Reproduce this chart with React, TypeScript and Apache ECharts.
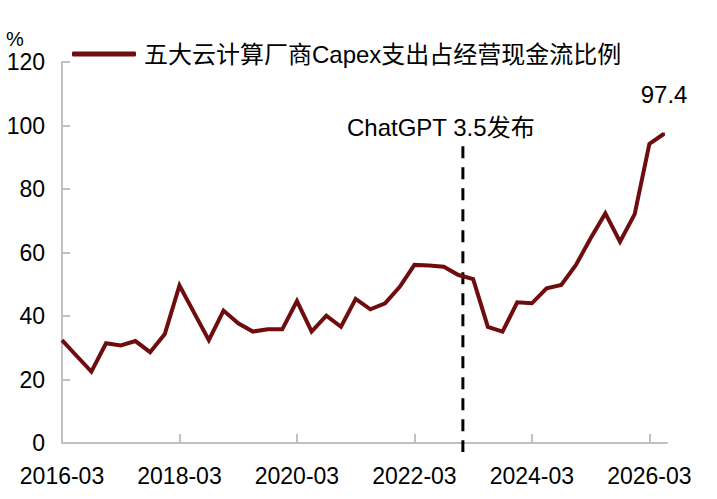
import React, { useEffect, useRef } from "react";
import * as echarts from "echarts";

const seriesName = "五大云计算厂商Capex支出占经营现金流比例";
const quarters: string[] = [
  "2016-03","2016-06","2016-09","2016-12","2017-03","2017-06","2017-09","2017-12",
  "2018-03","2018-06","2018-09","2018-12","2019-03","2019-06","2019-09","2019-12",
  "2020-03","2020-06","2020-09","2020-12","2021-03","2021-06","2021-09","2021-12",
  "2022-03","2022-06","2022-09","2022-12","2023-03","2023-06","2023-09","2023-12",
  "2024-03","2024-06","2024-09","2024-12","2025-03","2025-06","2025-09","2025-12",
  "2026-03","2026-06",
];
const values: number[] = [
  32.4, 27.4, 22.5, 31.4, 30.7, 32.1, 28.6, 34.3,
  49.6, 41.0, 32.4, 41.7, 37.7, 35.1, 35.8, 35.8,
  44.7, 35.1, 40.1, 36.6, 45.4, 42.1, 44.0, 49.2,
  56.1, 55.9, 55.5, 52.9, 51.6, 36.6, 35.1, 44.3,
  44.0, 48.7, 49.8, 56.1, 64.5, 72.3, 63.4, 72.1,
  94.2, 97.4,
];
const xTickIndices: number[] = [0, 8, 16, 24, 32, 40];
const yTicks: number[] = [0, 20, 40, 60, 80, 100, 120];
const chatgptIndex = 27.3;
const chatgptLineRange: number[] = [93.5, -2.8];
const chatgptLabel = "ChatGPT 3.5发布";
const unitLabel = "%";

const FONT = "'Liberation Sans', Arial, 'Noto Sans CJK SC', sans-serif";
const LINE_COLOR = "#6F0C0E";

export default function App() {
  const ref = useRef<HTMLDivElement>(null);
  useEffect(() => {
    document.body.style.margin = "0";
    if (!ref.current) return;
    const chart = echarts.init(ref.current, undefined, { renderer: "svg" });
    const lastIdx = values.length - 1;
    const lineData = values.map((v, i) =>
      i === lastIdx
        ? {
            value: [i, v],
            symbol: "circle",
            symbolSize: 2,
            itemStyle: { color: LINE_COLOR },
            label: {
              show: true,
              position: "top",
              distance: 26,
              fontSize: 24,
              color: "#000",
              fontFamily: FONT,
              formatter: () => v.toFixed(1),
            },
          }
        : { value: [i, v], symbol: "none" }
    );
    chart.setOption({
      animation: false,
      textStyle: { fontFamily: FONT },
      grid: { left: 62, right: 50, top: 62, bottom: 56, containLabel: false },
      legend: {
        data: [seriesName],
        left: 72,
        top: 42,
        padding: 0,
        itemWidth: 64,
        itemHeight: 5,
        icon: "roundRect",
        textStyle: { fontSize: 24, color: "#000", fontFamily: FONT, padding: [0, 0, 0, 3] },
      },
      xAxis: {
        type: "value",
        min: 0,
        max: 41.2,
        axisLine: { show: true, lineStyle: { color: "#C0C0C0", width: 2 } },
        axisTick: {
          show: true,
          inside: true,
          length: 9,
          lineStyle: { color: "#C0C0C0", width: 2 },
          customValues: xTickIndices,
        },
        axisLabel: {
          customValues: xTickIndices,
          fontSize: 23,
          color: "#000",
          margin: 21,
          fontFamily: FONT,
          formatter: (v: number) => quarters[Math.round(v)] ?? "",
        },
        splitLine: { show: false },
      },
      yAxis: {
        type: "value",
        min: 0,
        max: 120,
        interval: 20,
        axisLine: { show: true, lineStyle: { color: "#C0C0C0", width: 2 } },
        axisTick: {
          show: true,
          inside: true,
          length: 8,
          lineStyle: { color: "#C0C0C0", width: 2 },
        },
        axisLabel: {
          fontSize: 23,
          color: "#000",
          margin: 17,
          fontFamily: FONT,
          formatter: (v: number) => (yTicks.includes(v) ? String(v) : ""),
        },
        splitLine: { show: false },
      },
      series: [
        {
          name: seriesName,
          type: "line",
          data: lineData,
          showSymbol: true,
          symbol: "none",
          lineStyle: { color: LINE_COLOR, width: 4, join: "miter" },
          itemStyle: { color: LINE_COLOR },
          clip: false,
          z: 3,
          silent: true,
        },
        {
          name: "chatgpt",
          type: "line",
          data: chatgptLineRange.map((y) => [chatgptIndex, y]),
          showSymbol: false,
          symbol: "none",
          lineStyle: { color: "#000", width: 3, type: [12, 9] },
          clip: false,
          z: 2,
          silent: true,
        },
      ],
      graphic: [
        {
          type: "text",
          left: 6,
          top: 29,
          style: { text: unitLabel, fontSize: 20, fill: "#000", fontFamily: FONT },
        },
        {
          type: "text",
          left: 347,
          top: 115,
          style: { text: chatgptLabel, fontSize: 24, fill: "#000", fontFamily: FONT },
        },
      ],
    });
    return () => chart.dispose();
  }, []);
  return <div ref={ref} style={{ width: 717, height: 499 }} />;
}
